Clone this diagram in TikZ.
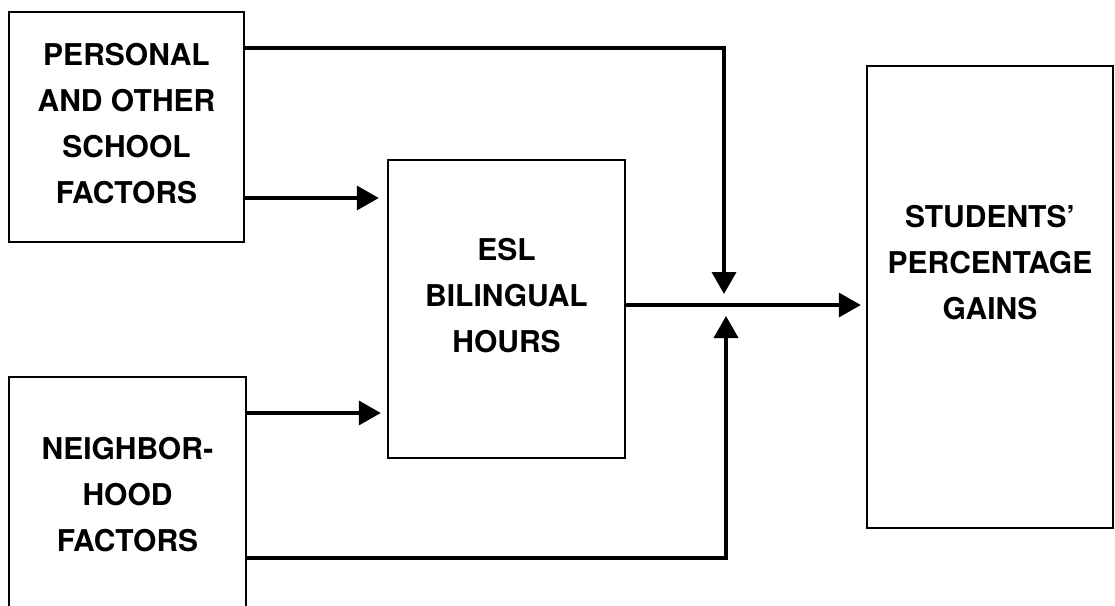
\documentclass[tikz,border=0pt]{standalone}
\usepackage{fontspec}
\setmainfont{TeX Gyre Heros}
\usetikzlibrary{arrows.meta}
\begin{document}
\begin{tikzpicture}[x=1pt,y=-1pt,
  box/.style={draw=black, line width=2.4pt, inner sep=0pt, fill=none},
  lbl/.style={font=\fontsize{30}{46}\selectfont\bfseries, align=center, text=black},
  conn/.style={draw=black, line width=3.6pt, line join=miter, -{Triangle[length=22pt,width=24pt]}}]
\useasboundingbox (0,0) rectangle (1115,605);
\fill[white] (0,0) rectangle (1115,605);
% boxes
\node[box, minimum width=235pt, minimum height=230pt,
  label={[lbl, yshift=3pt]center:PERSONAL\\AND OTHER\\SCHOOL\\FACTORS}] (P) at (126.5,127) {};
\node[box, minimum width=237pt, minimum height=236pt,
  label={[lbl, yshift=0pt]center:NEIGHBOR-\\HOOD\\FACTORS}] (N) at (127.5,495) {};
\node[box, minimum width=237pt, minimum height=298pt,
  label={[lbl, yshift=13pt]center:ESL\\BILINGUAL\\HOURS}] (E) at (506.5,309) {};
\node[box, minimum width=246pt, minimum height=462pt,
  label={[lbl, yshift=34pt]center:STUDENTS'\\PERCENTAGE\\GAINS}] (S) at (990,297) {};
% helper coordinates
\coordinate (ytop) at (0,48);
\coordinate (ybot) at (0,558);
\coordinate (jt) at (724,294);
\coordinate (jb) at (726,316);
% connectors
\draw[conn] (P.east |- ytop) -| (jt);
\draw[conn, shorten >=8pt] (P.east |- 0,198) -- (E.west |- 0,198);
\draw[conn, shorten >=6pt] (N.east |- 0,413) -- (E.west |- 0,413);
\draw[conn] (N.east |- ybot) -| (jb);
\draw[conn, shorten >=5pt] (E.east |- 0,305) -- (S.west |- 0,305);
\end{tikzpicture}
\end{document}
